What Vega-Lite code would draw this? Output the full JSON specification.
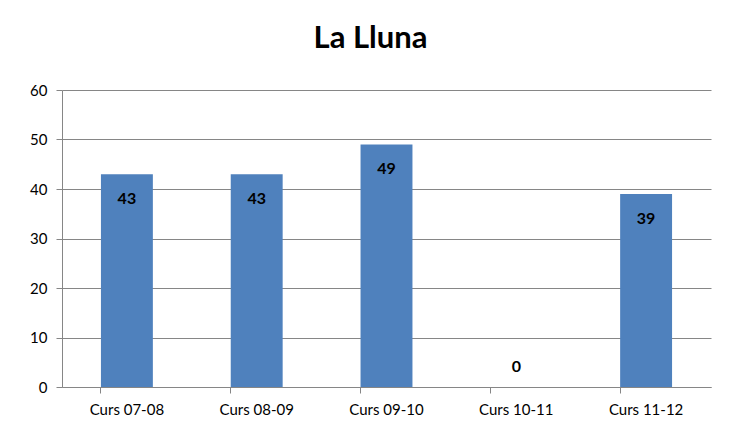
{
  "$schema": "https://vega.github.io/schema/vega-lite/v6.json",
  "autosize": "none",
  "width": 649,
  "height": 297,
  "padding": {"left": 62, "top": 90, "right": 29, "bottom": 51},
  "background": "white",
  "title": {
    "text": "La Lluna",
    "font": "Lato",
    "fontSize": 31,
    "fontWeight": "bold",
    "color": "#000000",
    "anchor": "middle",
    "dx": -16,
    "offset": 28
  },
  "data": {
    "values": [
      {"curs": "Curs 07-08", "alumnes": 43},
      {"curs": "Curs 08-09", "alumnes": 43},
      {"curs": "Curs 09-10", "alumnes": 49},
      {"curs": "Curs 10-11", "alumnes": 0},
      {"curs": "Curs 11-12", "alumnes": 39}
    ]
  },
  "encoding": {
    "x": {
      "field": "curs",
      "type": "nominal",
      "sort": null,
      "title": null,
      "scale": {"paddingInner": 0.6, "paddingOuter": 0.3},
      "axis": {
        "bandPosition": 0,
        "labelAngle": 0,
        "labelFont": "Lato",
        "labelFontSize": 15,
        "labelColor": "#000000",
        "labelPadding": 9,
        "tickSize": 6,
        "tickColor": "#868686",
        "domainColor": "#868686",
        "grid": false
      }
    },
    "y": {
      "field": "alumnes",
      "type": "quantitative",
      "title": null,
      "scale": {"domain": [0, 60], "nice": false},
      "axis": {
        "values": [0, 10, 20, 30, 40, 50, 60],
        "labelFont": "Lato",
        "labelFontSize": 15,
        "labelColor": "#000000",
        "labelPadding": 9,
        "tickSize": 6,
        "tickColor": "#868686",
        "domainColor": "#868686",
        "gridColor": "#868686",
        "gridOpacity": 1
      }
    }
  },
  "layer": [
    {"mark": {"type": "bar", "color": "#4F81BD"}},
    {
      "transform": [{"filter": "datum.alumnes > 0"}],
      "mark": {"type": "text", "font": "Lato", "fontSize": 16, "fontWeight": "bold", "color": "#000000", "baseline": "middle", "dy": 25},
      "encoding": {"text": {"field": "alumnes", "type": "quantitative"}}
    },
    {
      "transform": [{"filter": "datum.alumnes <= 0"}],
      "mark": {"type": "text", "font": "Lato", "fontSize": 16, "fontWeight": "bold", "color": "#000000", "baseline": "middle", "dy": -20},
      "encoding": {"text": {"field": "alumnes", "type": "quantitative"}}
    }
  ],
  "config": {"view": {"stroke": null}}
}
